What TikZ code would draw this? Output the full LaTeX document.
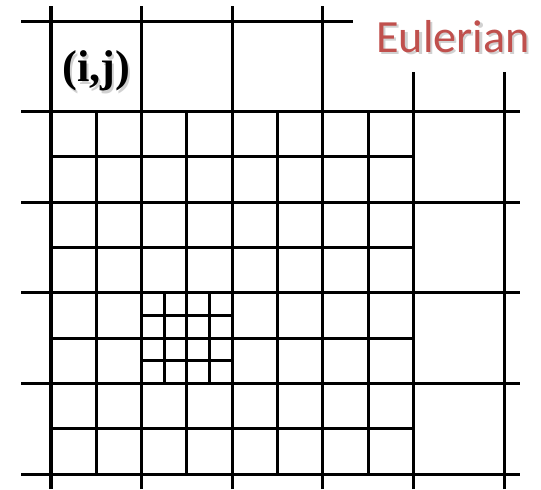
\documentclass[tikz,border=0pt]{standalone}
\usepackage{fontspec}
\setmainfont{Liberation Serif}
\newfontfamily\calfont{Carlito}
\usetikzlibrary{positioning}
\definecolor{cRed}{RGB}{192,80,77}
\tikzset{
  gridline/.style={line width=1.9pt, black},
  shadowtext/.style={text=black, opacity=0.18},
}

\begin{document}
\begin{tikzpicture}[scale=2]
    \useasboundingbox (-0.563,-0.166) rectangle (5.408,5.232);
    % coarse cells
    \draw[gridline] (0,-0.166) -- (0,5.166);
    \draw[gridline] (1,-0.166) -- (1,5.166);
    \draw[gridline] (2,-0.166) -- (2,5.166);
    \draw[gridline] (3,-0.166) -- (3,5.166);
    \draw[gridline] (4,-0.166) -- (4,4.437);
    \draw[gridline] (5,-0.166) -- (5,4.437);
    \draw[gridline] (-0.33,5) -- (3.33,5);
    \draw[gridline] (-0.33,4) -- (5.18,4);
    \draw[gridline] (-0.33,3) -- (5.18,3);
    \draw[gridline] (-0.33,2) -- (5.18,2);
    \draw[gridline] (-0.33,1) -- (5.18,1);
    \draw[gridline] (-0.33,0) -- (5.18,0);
    % refined level 1
    \draw[gridline] (0.5,0) -- (0.5,4);
    \draw[gridline] (1.5,0) -- (1.5,4);
    \draw[gridline] (2.5,0) -- (2.5,4);
    \draw[gridline] (3.5,0) -- (3.5,4);
    \draw[gridline] (0,0.5) -- (4,0.5);
    \draw[gridline] (0,1.5) -- (4,1.5);
    \draw[gridline] (0,2.5) -- (4,2.5);
    \draw[gridline] (0,3.5) -- (4,3.5);
    % refined level 2
    \draw[gridline] (1.25,1) -- (1.25,2);
    \draw[gridline] (1.75,1) -- (1.75,2);
    \draw[gridline] (1,1.25) -- (2,1.25);
    \draw[gridline] (1,1.75) -- (2,1.75);
    % labels
    \node[shadowtext, anchor=base, font=\fontsize{28}{34}\selectfont\bfseries]
      (ijshadow) at (0.525,4.302) {(i,j)};
    \node[anchor=base, font=\fontsize{28}{34}\selectfont\bfseries] (ij) at (0.5,4.327) {(i,j)};
    \node[shadowtext, anchor=base, font=\fontsize{29}{35}\selectfont\calfont]
      (titleshadow) at (4.462,4.633) {Eulerian};
    \node[anchor=base, text=cRed, font=\fontsize{29}{35}\selectfont\calfont]
      (title) at (4.437,4.658) {Eulerian};
\end{tikzpicture}
\end{document}
